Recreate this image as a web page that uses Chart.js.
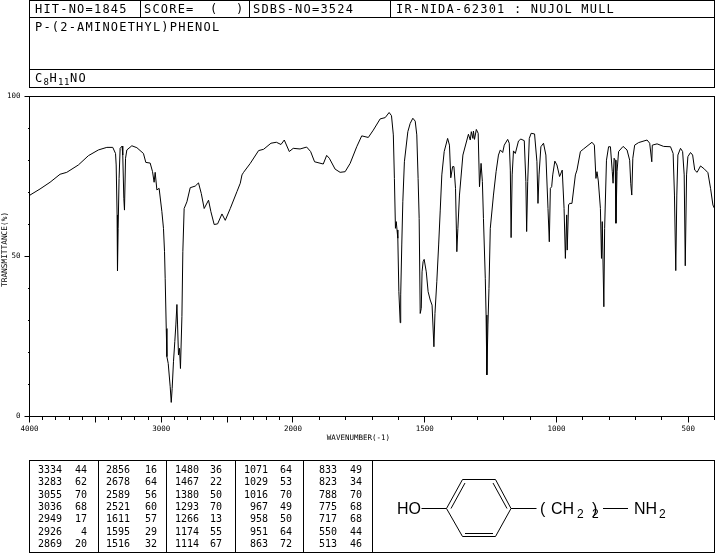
<!DOCTYPE html>
<html>
<head>
<meta charset="utf-8">
<title>P-(2-AMINOETHYL)PHENOL</title>
<script src="https://cdn.jsdelivr.net/npm/chart.js@4"></script>
<style>
  html, body { margin: 0; padding: 0; background: #fff; }
  #page { position: relative; width: 715px; height: 553px; overflow: hidden; color: #000; font-family: "DejaVu Sans Mono", monospace; }
  #spectrum { position: absolute; left: 0; top: 0; }
  .line { position: absolute; background: #000; }
  .head { position: absolute; font-size: 12px; line-height: 14px; letter-spacing: 1.2px; white-space: pre; }
  .head sub { font-size: 9px; line-height: 0; letter-spacing: 0.6px; vertical-align: -3px; }
  .peak { position: absolute; font-size: 10px; line-height: 12px; text-align: right; white-space: pre; }
  svg { position: absolute; left: 0; top: 0; }
  svg text { font-family: "Liberation Sans", sans-serif; font-size: 16px; }
  svg text.sub { font-size: 12px; }
</style>
</head>
<body>
<div id="page">
  <canvas id="spectrum" width="715" height="553"></canvas>
  <div id="lines"></div>
  <div class="head" style="left:35px;top:2px">HIT-NO=1845</div>
  <div class="head" style="left:144px;top:2px">SCORE=</div>
  <div class="head" style="left:210px;top:2px">(</div>
  <div class="head" style="left:236px;top:2px">)</div>
  <div class="head" style="left:253px;top:2px">SDBS-NO=3524</div>
  <div class="head" style="left:396px;top:2px">IR-NIDA-62301 : NUJOL MULL</div>
  <div class="head" style="left:35px;top:20px">P-(2-AMINOETHYL)PHENOL</div>
  <div class="head" style="left:35px;top:71px">C<sub>8</sub>H<sub>11</sub>NO</div>
  <div id="peaks"></div>
  <svg width="715" height="553" stroke="#000" stroke-width="1" fill="none">
    <path d="M421.5 508.5H446.5L462.5 479.5H495.5L511 508.5L495.5 536.5H462.5L446.5 508.5M465 483L451 508.5M493 483L507 508.5M465 533.5H493M511 508.5H536.5M603 508.5H628"/>
    <g fill="#000" stroke="none">
      <text x="397" y="514">HO</text>
      <text x="540" y="514">(</text>
      <text x="551" y="514">CH</text>
      <text class="sub" x="577" y="518">2</text>
      <text x="592" y="514">)</text>
      <text class="sub" x="592" y="518">2</text>
      <text x="634" y="514">NH</text>
      <text class="sub" x="659" y="518">2</text>
    </g>
  </svg>
</div>
<script>
const wavenumbers = [4000, 3996, 3920, 3844, 3768, 3717, 3629, 3553, 3477, 3413, 3368, 3347, 3342, 3335, 3332, 3327, 3320, 3312, 3297, 3292, 3284, 3279, 3271, 3261, 3223, 3185, 3135, 3117, 3084, 3066, 3054, 3046, 3033, 3016, 2995, 2983, 2975, 2970, 2962, 2957, 2947, 2932, 2924, 2917, 2907, 2897, 2889, 2881, 2876, 2869, 2861, 2854, 2843, 2836, 2826, 2805, 2780, 2742, 2717, 2696, 2674, 2641, 2623, 2598, 2572, 2539, 2514, 2476, 2425, 2400, 2387, 2375, 2324, 2261, 2223, 2167, 2126, 2091, 2066, 2028, 1999, 1973, 1948, 1933, 1918, 1885, 1872, 1862, 1840, 1821, 1802, 1783, 1758, 1739, 1714, 1695, 1669, 1650, 1635, 1626, 1619, 1615, 1611, 1608, 1605, 1602, 1598, 1593, 1591, 1587, 1583, 1577, 1564, 1555, 1545, 1536, 1530, 1525, 1521, 1517, 1513, 1510, 1506, 1502, 1494, 1487, 1479, 1472, 1465, 1461, 1454, 1447, 1441, 1435, 1426, 1413, 1406, 1401, 1394, 1389, 1383, 1378, 1374, 1368, 1355, 1334, 1327, 1323, 1317, 1315, 1311, 1304, 1297, 1292, 1286, 1281, 1277, 1270, 1267, 1264, 1260, 1256, 1251, 1239, 1229, 1220, 1213, 1204, 1198, 1185, 1179, 1175, 1172, 1168, 1163, 1156, 1144, 1135, 1122, 1116, 1113, 1109, 1103, 1096, 1083, 1074, 1070, 1066, 1059, 1049, 1040, 1032, 1027, 1023, 1018, 1014, 1006, 998, 988, 978, 971, 966, 961, 959, 954, 950, 941, 928, 922, 909, 897, 865, 856, 850, 846, 841, 833, 829, 826, 820, 817, 810, 802, 795, 788, 785, 781, 777, 774, 770, 764, 747, 732, 722, 718, 714, 710, 703, 688, 656, 646, 638, 636, 618, 593, 567, 557, 552, 547, 543, 539, 529, 521, 515, 511, 506, 501, 491, 483, 475, 466, 453, 438, 425, 415, 406, 400];
const transmittance = [69, 69.2, 71.1, 73.2, 75.7, 76.3, 78.6, 81.5, 83.3, 84.1, 84.1, 82.2, 78.6, 63, 45.5, 58.8, 74.4, 83.8, 84.5, 81.7, 68.2, 64.5, 80.7, 83.3, 84.6, 84, 82.2, 79.4, 79.2, 76.5, 73.2, 76.3, 70.8, 71.3, 64, 58.8, 51.5, 43.2, 27.5, 18.7, 16.6, 9.3, 4.4, 8.8, 17.1, 23.4, 28.6, 35, 28.6, 19.2, 21.3, 15, 31.2, 51.5, 65, 67.1, 71.5, 72, 73, 69.7, 65, 67.6, 64, 60, 60.2, 63.3, 61.3, 65, 70.3, 72.9, 75.5, 76.3, 79.1, 83.1, 83.5, 85.4, 85.7, 85, 86.4, 82.8, 83.8, 83.6, 84.2, 82.8, 79.6, 78.9, 81.6, 80.7, 77.3, 76.3, 76.5, 79.1, 84.3, 87.7, 87.2, 89.5, 93, 93.4, 95, 94, 88, 74.4, 58.8, 60.9, 58.3, 55.7, 39, 29.3, 38, 53.6, 67.1, 79.6, 89, 91.6, 93.2, 92.3, 88, 74.4, 61.9, 32.2, 33.8, 45.2, 48.4, 49.1, 45.2, 39, 36.4, 34.8, 21.8, 32.2, 42.1, 53.6, 64.5, 75.5, 82.8, 86.9, 84.8, 74.6, 78.1, 78.1, 71.3, 51.5, 58.8, 69.2, 81.7, 88.2, 86.4, 89, 86.9, 89.2, 86.6, 89.7, 88.5, 71.8, 79.1, 73.4, 61.9, 43.2, 31.7, 13, 28.6, 40, 58.8, 69.2, 76.5, 81.7, 83.3, 82.5, 84.8, 86.6, 85.4, 77, 55.9, 75.5, 83, 82.2, 86.1, 86.7, 86.2, 73.4, 57.8, 73.4, 86.9, 88.5, 88.3, 79.6, 66.6, 75.5, 84.3, 85.4, 81.7, 65, 54.6, 71.3, 71.8, 75.5, 79.8, 78.6, 75, 77, 65, 49.4, 63, 52, 66.1, 66.6, 66.6, 75.5, 77, 82.8, 83.6, 85.7, 84.8, 74.4, 76.5, 73.6, 65, 49.4, 60.9, 34.3, 58.8, 80.1, 84.3, 84.3, 76.5, 72.9, 80.7, 80.1, 60.4, 76.5, 82.8, 84.4, 83.3, 80.1, 72.9, 69.2, 80.7, 84.8, 85.6, 86.4, 85.4, 79.6, 84.8, 85.2, 84.4, 84.3, 82.2, 69.2, 45.6, 69.2, 81.7, 83.8, 82.8, 75.5, 47.1, 75.5, 81.2, 82.5, 81.7, 77, 76.3, 78.3, 77.3, 76.2, 71.3, 66.1, 65];

const peakWavenumbers = [
  [3334, 3283, 3055, 3036, 2949, 2926, 2869],
  [2856, 2678, 2589, 2521, 1611, 1595, 1516],
  [1480, 1467, 1380, 1293, 1266, 1174, 1114],
  [1071, 1029, 1016, 967, 958, 951, 863],
  [833, 823, 788, 775, 717, 550, 513]
];
const peakValues = [
  [44, 62, 70, 68, 17, 4, 20],
  [16, 64, 56, 60, 57, 29, 32],
  [36, 22, 50, 70, 13, 55, 67],
  [64, 53, 70, 49, 50, 64, 72],
  [49, 34, 70, 68, 68, 44, 46]
];

const xLabels = [4000, 3000, 2000, 1500, 1000, 500];
const xMajorTicks = [4000, 3500, 3000, 2500, 2000, 1500, 1000, 500];
const xMinorTicks = [4000, 3900, 3800, 3700, 3600, 3500, 3400, 3300, 3200, 3100, 3000, 2900, 2800, 2700, 2600, 2500, 2400, 2300, 2200, 2100, 2000, 1900, 1800, 1700, 1600, 1500, 1400, 1300, 1200, 1100, 1000, 900, 800, 700, 600, 500, 400];
const yMajorTicks = [0, 50, 100];
const yMinorTicks = [0, 10, 20, 30, 40, 50, 60, 70, 80, 90, 100];

// the chart paper doubles its scale below 2000 cm-1
function toAxis(wn) {
  return wn >= 2000 ? 4000 - wn : 2000 + (2000 - wn) * 2;
}

function fromAxis(v) {
  return v <= 2000 ? 4000 - v : 2000 - (v - 2000) / 2;
}

const axisFont = { family: '"DejaVu Sans Mono", monospace', size: 7.5 };

// frame round the plot
const framePlugin = {
  id: 'frame',
  afterDraw(chart) {
    const a = chart.chartArea;
    const ctx = chart.ctx;
    ctx.save();
    ctx.strokeStyle = '#000';
    ctx.lineWidth = 1;
    ctx.strokeRect(a.left, a.top, a.right - a.left, a.bottom - a.top);
    ctx.restore();
  }
};

new Chart(document.getElementById('spectrum').getContext('2d'), {
  type: 'line',
  data: {
    datasets: [{
      data: wavenumbers.map((wn, i) => ({ x: toAxis(wn), y: transmittance[i] })),
      borderColor: '#000',
      borderWidth: 1,
      pointRadius: 0,
      tension: 0,
      fill: false
    }]
  },
  plugins: [framePlugin],
  options: {
    responsive: false,
    animation: false,
    devicePixelRatio: 1,
    layout: { padding: { left: 0, top: 96.5, right: 0.5, bottom: 110.5 } },
    plugins: { legend: { display: false }, tooltip: { enabled: false } },
    scales: {
      x: {
        type: 'linear',
        min: 0,
        max: 5200,
        afterBuildTicks: s => { s.ticks = xMajorTicks.map(wn => ({ value: toAxis(wn) })); },
        afterFit: s => { s.height = 26; },
        grid: { drawOnChartArea: false, tickLength: 6, tickColor: '#000' },
        border: { color: '#000' },
        ticks: {
          autoSkip: false,
          maxRotation: 0,
          padding: 2,
          color: '#000',
          font: axisFont,
          callback: v => {
            const wn = fromAxis(v);
            return xLabels.includes(wn) ? String(wn) : '';
          }
        },
        title: {
          display: true,
          text: 'WAVENUMBER(-1)      ',
          color: '#000',
          font: axisFont,
          padding: 0
        }
      },
      xMinor: {
        type: 'linear',
        axis: 'x',
        position: { y: 0 },
        min: 0,
        max: 5200,
        afterBuildTicks: s => { s.ticks = xMinorTicks.map(wn => ({ value: toAxis(wn) })); },
        grid: { drawOnChartArea: false, tickLength: 3, tickColor: '#000' },
        border: { display: false },
        ticks: { display: false, autoSkip: false }
      },
      y: {
        type: 'linear',
        min: 0,
        max: 100,
        afterBuildTicks: s => { s.ticks = yMajorTicks.map(v => ({ value: v })); },
        afterFit: s => { s.width = 29.5; },
        grid: { drawOnChartArea: false, tickLength: 5, tickColor: '#000' },
        border: { color: '#000' },
        ticks: { autoSkip: false, padding: 4, color: '#000', font: axisFont },
        title: {
          display: true,
          text: '   TRANSMITTANCE(%)',
          color: '#000',
          font: { family: axisFont.family, size: 7.8 },
          padding: 0
        }
      },
      yMinor: {
        type: 'linear',
        axis: 'y',
        position: { x: 0 },
        min: 0,
        max: 100,
        afterBuildTicks: s => { s.ticks = yMinorTicks.map(v => ({ value: v })); },
        grid: { drawOnChartArea: false, tickLength: 2, tickColor: '#000' },
        border: { display: false },
        ticks: { display: false, autoSkip: false }
      }
    }
  }
});

// ruled boxes: [left, top, width, height]
const rules = [
  [29, 0, 686, 1], [29, 17, 686, 1], [29, 69, 686, 1], [29, 87, 686, 1],
  [29, 0, 1, 88], [714, 0, 1, 88], [140, 0, 1, 17], [249, 0, 1, 17], [390, 0, 1, 17],
  [29, 460, 686, 1], [29, 552, 686, 1], [29, 460, 1, 93], [714, 460, 1, 93],
  [98, 460, 1, 92], [166, 460, 1, 92], [235, 460, 1, 92], [303, 460, 1, 92], [372, 460, 1, 92]
];
const lines = document.getElementById('lines');
rules.forEach(r => {
  const d = document.createElement('div');
  d.className = 'line';
  d.style.cssText = `left:${r[0]}px;top:${r[1]}px;width:${r[2]}px;height:${r[3]}px`;
  lines.appendChild(d);
});

// peak table
const wnRight = [62, 130, 199, 268, 337];
const valRight = [87, 157, 222, 292, 362];
const peaks = document.getElementById('peaks');
function addPeakText(text, right, row) {
  const s = document.createElement('div');
  s.className = 'peak';
  s.textContent = text;
  s.style.left = (right - 40) + 'px';
  s.style.width = '40px';
  s.style.top = (464 + row * 12.35) + 'px';
  peaks.appendChild(s);
}
peakWavenumbers.forEach((col, c) => {
  col.forEach((wn, r) => {
    addPeakText(String(wn), wnRight[c], r);
    addPeakText(String(peakValues[c][r]), valRight[c], r);
  });
});
</script>
</body>
</html>
